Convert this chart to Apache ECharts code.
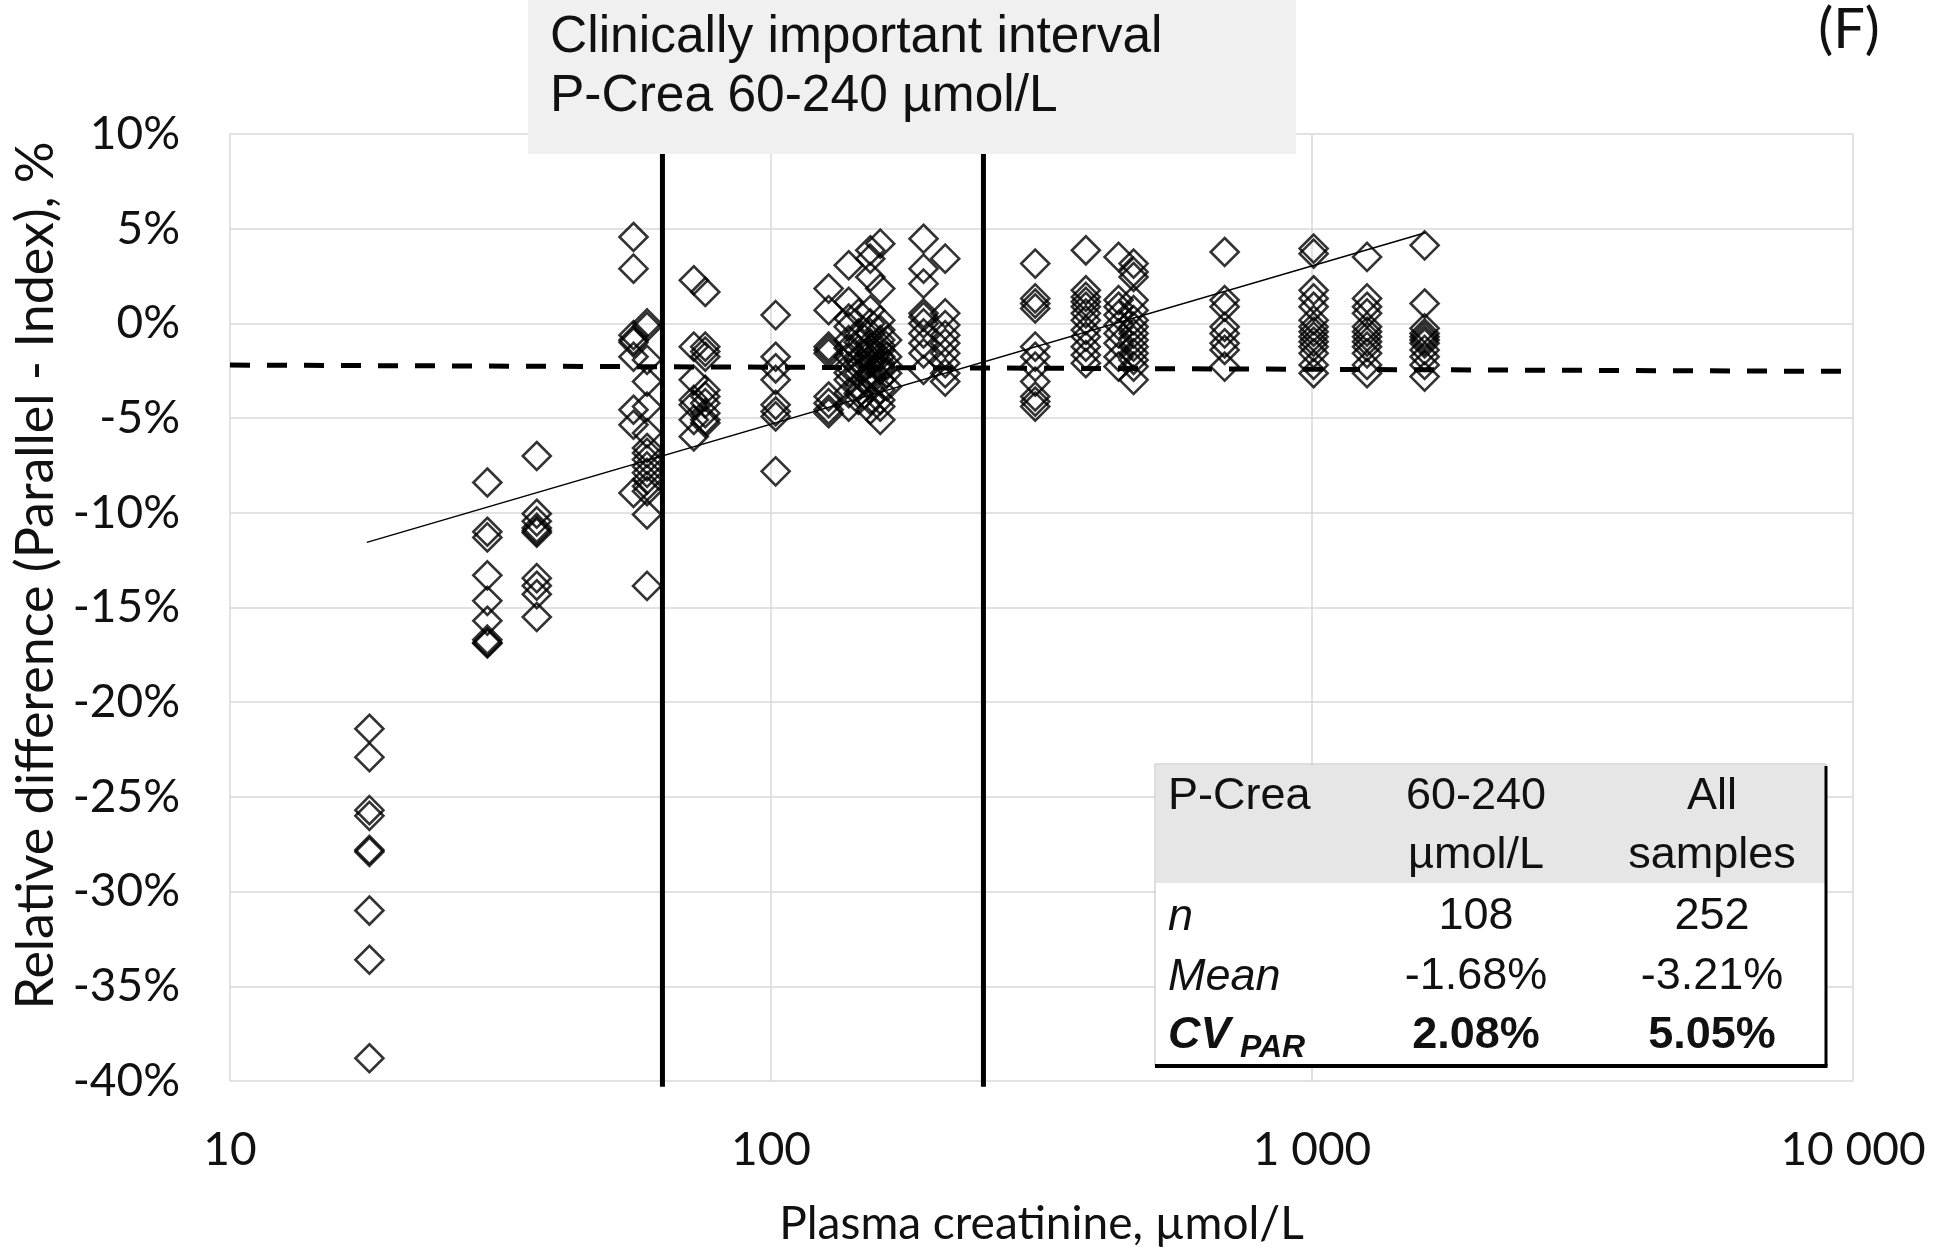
<!DOCTYPE html>
<html><head><meta charset="utf-8">
<script src="https://cdn.jsdelivr.net/npm/echarts/dist/echarts.min.js"></script>
<style>html,body{margin:0;padding:0;background:#fff}#c{width:1948px;height:1252px}</style>
</head><body><div id="c"></div>
<script>
// ---- axis ticks ----
const xTicks = [10, 100, 1000, 10000];
const xTickLabels = ['10', '100', '1 000', '10 000'];
const yMin = -40, yMax = 10, yStep = 5;

// ---- sample groups: plasma creatinine (µmol/L) and relative difference (%) ----
const conc = [18.1, 29.9, 36.9, 55.7, 59.0, 72.0, 75.6, 102, 127.8, 139.2, 145.2, 152.6, 159.2, 163.9,
              191.4, 209.9, 307.9, 381.9, 439, 468, 689.5, 1007, 1264, 1615];
const d18  = [-21.4, -22.9, -25.7, -26.0, -27.8, -27.9, -31.0, -33.6, -38.8];
const d30  = [-8.4, -11.0, -11.3, -13.3, -14.65, -15.7, -16.7, -16.85, -16.9];
const d37  = [-7.0, -10.05, -10.45, -10.8, -10.95, -11.05, -13.45, -13.85, -14.3, -15.5];
const d56  = [4.56, 2.89, -0.62, -0.88, -1.0, -1.76, -4.56, -5.35, -8.95];
const d59  = [0.0, -0.18, -1.93, -3.07, -4.39, -5.79, -6.58, -6.84, -7.19, -7.55, -7.89, -8.25, -8.6, -8.86, -10.09, -13.86];
const d72  = [2.28, -1.23, -2.98, -4.04, -4.3, -5.09, -5.97];
const d76  = [1.66, -1.23, -1.49, -1.76, -3.51, -3.86, -4.21, -4.74, -5.09, -5.26];
const d102 = [0.44, -1.76, -2.37, -2.98, -4.3, -4.65, -4.91, -7.81];
const d128 = [1.84, 0.7, -1.23, -1.4, -1.58, -3.86, -4.21, -4.56, -4.74];
const d139 = [3.07, 1.14, 0.26, -0.18, -0.88, -1.3, -1.76, -2.28, -2.6, -2.98, -3.68, -4.39];
const d145 = [0.53, -0.53, -1.0, -1.4, -1.93, -2.3, -2.63, -3.33, -3.7, -4.04];
const d153 = [3.86, 3.42, 2.45, 0.7, 0, -0.53, -1.05, -1.3, -1.58, -1.85, -2.1, -2.63, -2.9, -3.33, -4.04, -4.56];
const d159 = [4.21, 1.84, 0.17, -0.35, -0.88, -1.15, -1.4, -1.76, -2.1, -2.3, -2.46, -2.98, -3.5, -4.04, -4.39, -5.09];
const d164 = [-0.88, -1.76, -2.2, -2.63, -3.33];
const d191 = [4.47, 2.89, 2.1, 0.53, 0.35, 0, -0.53, -1.05, -1.58, -2.46];
const d210 = [3.42, 0.53, -0.09, -0.62, -1.05, -1.58, -2.1, -2.63, -3.07];
const d308 = [3.16, 1.32, 1.05, 0.79, -1.23, -1.76, -2.28, -3.07, -3.86, -4.13, -4.39];
const d382 = [3.86, 1.75, 1.4, 1.14, 0.88, 0.53, 0.17, -0.35, -0.7, -1.23, -1.67, -2.1];
const d439 = [3.51, 1.23, 0.88, 0.44, -0.09, -0.53, -1.05, -1.76, -2.28];
const d468 = [3.16, 2.72, 2.45, 1.23, 0.7, 0.17, -0.18, -0.53, -0.88, -1.23, -1.58, -1.93, -2.28, -2.98];
const d690 = [3.77, 1.23, 0.88, -0.18, -0.53, -1.05, -1.4, -2.28];
const d1007 = [3.95, 3.68, 1.75, 1.32, 0.88, 0.17, -0.18, -0.44, -0.7, -0.97, -1.23, -1.58, -2.19, -2.63];
const d1264 = [3.51, 1.32, 0.88, 0.53, -0.18, -0.44, -0.7, -0.97, -1.23, -1.58, -2.19, -2.63];
const d1615 = [4.12, 1.05, -0.26, -0.53, -0.7, -0.88, -1.05, -1.4, -1.76, -2.19, -2.81];
const diffs = [d18, d30, d37, d56, d59, d72, d76, d102, d128, d139, d145, d153, d159, d164,
               d191, d210, d308, d382, d439, d468, d690, d1007, d1264, d1615];

// ---- reference lines ----
const trendX = [17.9, 1620];
const trendY = [-11.56, 4.79];
const meanX = [10, 13700];
const meanY = [-2.2, -2.55];
const intervalLow = 63, intervalHigh = 247;
const intervalY = [-40.3, 10];

// ---- table ----
const tableHead = ['P-Crea', '60-240', 'All'];
const tableHead2 = ['', 'µmol/L', 'samples'];
const rowN = ['n', '108', '252'];
const rowMean = ['Mean', '-1.68%', '-3.21%'];
const rowCV = ['CV', '2.08%', '5.05%'];

const scatterData = [];
conc.forEach((c, i) => diffs[i].forEach(v => scatterData.push([c, v])));

const LAB = 'Lato, "Open Sans", sans-serif';
const ARI = '"Liberation Sans", Arial, sans-serif';

const chart = echarts.init(document.getElementById('c'), null, {renderer: 'canvas'});

const tL = 1155, tT = 764, tW = 671, tH = 302;
const rowY = [797, 856, 917, 977, 1036];
const colX = [1168, 1476, 1712];
function txt(x, y, s, align, style) {
  return Object.assign({type: 'text', x: x, y: y, z: 110,
    style: Object.assign({text: s, fill: '#111', font: '45px ' + ARI, textAlign: align, textVerticalAlign: 'middle'}, style || {})});
}
const tableEls = [
  {type: 'rect', z: 105, shape: {x: tL, y: tT, width: tW, height: tH}, style: {fill: '#fff', stroke: '#bdbdbd', lineWidth: 1}},
  {type: 'rect', z: 106, shape: {x: tL + 1, y: tT + 1, width: tW - 2, height: 118}, style: {fill: '#e7e6e6'}},
  {type: 'line', z: 107, shape: {x1: tL + tW, y1: tT + 2, x2: tL + tW, y2: tT + tH}, style: {stroke: '#000', lineWidth: 3}},
  {type: 'line', z: 107, shape: {x1: tL, y1: tT + tH, x2: tL + tW + 1.5, y2: tT + tH}, style: {stroke: '#000', lineWidth: 4}},
  txt(colX[0], rowY[0], tableHead[0], 'left'),
  txt(colX[1], rowY[0], tableHead[1], 'center'),
  txt(colX[2], rowY[0], tableHead[2], 'center'),
  txt(colX[1], rowY[1], tableHead2[1], 'center'),
  txt(colX[2], rowY[1], tableHead2[2], 'center'),
  txt(colX[0], rowY[2], rowN[0], 'left', {font: 'italic 45px ' + ARI}),
  txt(colX[1], rowY[2], rowN[1], 'center'),
  txt(colX[2], rowY[2], rowN[2], 'center'),
  txt(colX[0], rowY[3], rowMean[0], 'left', {font: 'italic 45px ' + ARI}),
  txt(colX[1], rowY[3], rowMean[1], 'center'),
  txt(colX[2], rowY[3], rowMean[2], 'center'),
  txt(colX[0], rowY[4], rowCV[0], 'left', {font: 'italic bold 45px ' + ARI}),
  txt(colX[0] + 72, rowY[4] + 12, 'PAR', 'left', {font: 'italic bold 32px ' + ARI}),
  txt(colX[1], rowY[4], rowCV[1], 'center', {font: 'bold 45px ' + ARI}),
  txt(colX[2], rowY[4], rowCV[2], 'center', {font: 'bold 45px ' + ARI})
];

const option = {
  backgroundColor: '#fff',
  animation: false,
  grid: {left: 230, right: 95, top: 134, bottom: 169, containLabel: false},
  xAxis: {
    type: 'log', logBase: 10, min: xTicks[0], max: xTicks[xTicks.length - 1],
    name: 'Plasma creatinine, µmol/L', nameLocation: 'middle', nameGap: 120,
    nameTextStyle: {fontFamily: LAB, fontSize: 46, color: '#111'},
    axisLine: {show: false}, axisTick: {show: false},
    axisLabel: {fontFamily: LAB, fontSize: 46, color: '#111', margin: 46,
      formatter: v => { const i = xTicks.findIndex(t => Math.abs(t - v) < 1e-6 * t); return i >= 0 ? xTickLabels[i] : ''; }},
    splitLine: {show: true, lineStyle: {color: '#d9d9d9', width: 1.5}}
  },
  yAxis: {
    type: 'value', min: yMin, max: yMax, interval: yStep,
    name: 'Relative difference (Parallel - Index), %', nameLocation: 'middle', nameGap: 166,
    nameTextStyle: {fontFamily: LAB, fontSize: 52, color: '#111', padding: [0, 0, 0, 64]},
    axisLine: {show: false}, axisTick: {show: false},
    axisLabel: {fontFamily: LAB, fontSize: 46, color: '#111', margin: 50, formatter: v => v + '%'},
    splitLine: {show: true, lineStyle: {color: '#d9d9d9', width: 1.5}}
  },
  series: [
    {type: 'line', data: [[meanX[0], meanY[0]], [meanX[1], meanY[1]]], symbol: 'none', clip: false, z: 3,
      lineStyle: {color: '#000', width: 5, type: [20, 17]}},
    {type: 'line', data: [[intervalLow, intervalY[0]], [intervalLow, intervalY[1]]], symbol: 'none', clip: false, z: 3,
      lineStyle: {color: '#000', width: 5}},
    {type: 'line', data: [[intervalHigh, intervalY[0]], [intervalHigh, intervalY[1]]], symbol: 'none', clip: false, z: 3,
      lineStyle: {color: '#000', width: 5}},
    {type: 'scatter', data: scatterData, symbol: 'diamond', symbolSize: 28, z: 4,
      itemStyle: {color: 'rgba(0,0,0,0)', borderColor: '#000', borderWidth: 2.6}},
    {type: 'line', data: [[trendX[0], trendY[0]], [trendX[1], trendY[1]]], symbol: 'none', z: 5,
      lineStyle: {color: '#000', width: 1.5}}
  ],
  graphic: [
    {type: 'rect', z: 100, shape: {x: 528, y: 0, width: 768, height: 154}, style: {fill: '#f0f0f0'}},
    {type: 'text', z: 101, x: 550, y: 38, style: {text: 'Clinically important interval', font: '51.5px ' + ARI, fill: '#111', textVerticalAlign: 'middle'}},
    {type: 'text', z: 101, x: 550, y: 97, style: {text: 'P-Crea 60-240 µmol/L', font: '51.5px ' + ARI, fill: '#111', textVerticalAlign: 'middle'}},
    {type: 'text', z: 101, x: 1849, y: 30, style: {text: '(F)', font: '56px ' + LAB, fill: '#111', textAlign: 'center', textVerticalAlign: 'middle'}}
  ].concat(tableEls)
};
chart.setOption(option);
</script>
</body></html>
